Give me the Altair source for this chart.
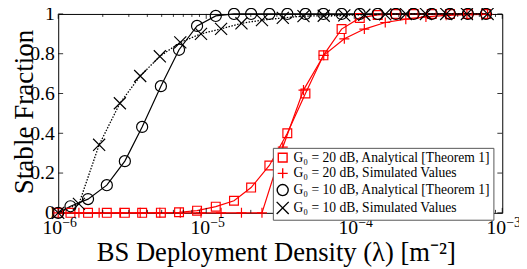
import altair as alt
import pandas as pd

# ---- data ----
x_analytical = [1e-6, 1.21e-6, 1.59e-6, 2.13e-6, 2.82e-6, 3.69e-6, 4.94e-6, 6.55e-6, 8.67e-6,
                1.16e-5, 1.54e-5, 2.01e-5, 2.67e-5, 3.53e-5, 4.68e-5, 6.19e-5, 8.21e-5,
                1.09e-4, 1.44e-4, 1.91e-4, 2.52e-4, 3.34e-4, 4.43e-4, 5.86e-4, 7.76e-4]
g20_analytical = [0, 0, 0, 0, 0, 0, 0.001, 0.003, 0.011, 0.031, 0.061, 0.127, 0.238, 0.40,
                  0.60, 0.792, 0.924, 0.98, 0.995, 1, 1, 1, 1, 1, 1]
g10_analytical = [0, 0.033, 0.069, 0.139, 0.26, 0.432, 0.637, 0.82, 0.94, 0.99, 1, 1, 1, 1,
                  1, 1, 1, 1, 1, 1, 1, 1, 1, 1, 1]

x_simulated = [1e-6, 1.38e-6, 1.89e-6, 2.61e-6, 3.58e-6, 4.86e-6, 6.68e-6, 9.22e-6, 1.26e-5,
               1.73e-5, 2.38e-5, 3.29e-5, 4.54e-5, 6.22e-5, 8.57e-5, 1.17e-4, 1.62e-4,
               2.23e-4, 3.05e-4, 4.18e-4, 5.77e-4, 7.96e-4]
g20_simulated = [0, 0, 0, 0, 0, 0, 0, 0, 0, 0, 0, 0.33, 0.617, 0.792, 0.875, 0.924, 0.957,
                 0.974, 0.985, 0.993, 0.996, 0.998]
g10_simulated = [0, 0.045, 0.342, 0.551, 0.688, 0.787, 0.857, 0.90, 0.925, 0.953, 0.969,
                 0.98, 0.989, 0.991, 0.993, 0.996, 0.998, 1, 1, 1, 1, 1]

series_names = ["G₀ = 20 dB, Analytical [Theorem 1]",
                "G₀ = 20 dB, Simulated Values",
                "G₀ = 10 dB, Analytical [Theorem 1]",
                "G₀ = 10 dB, Simulated Values"]
series_colors = ["#ff0000", "#ff0000", "#000000", "#000000"]
series_shapes = ["square", "M-1,0L1,0M0,-1L0,1", "circle", "M-1,-1L1,1M-1,1L1,-1"]
series_sizes = [80, 150, 100, 90]

x_tick_major = [1e-6, 1e-5, 1e-4, 1e-3]
x_tick_base = ["10", "10", "10", "10"]
x_tick_exp = ["−6", "−5", "−4", "−3"]
x_tick_minor = [m * d for d in [1e-6, 1e-5, 1e-4] for m in range(2, 10)]
y_ticks = [0, 0.2, 0.4, 0.6, 0.8, 1.0]

# ---- build table ----
rows = []
for name, xs, ys, col in [
    (series_names[0], x_analytical, g20_analytical, series_colors[0]),
    (series_names[1], x_simulated, g20_simulated, series_colors[1]),
    (series_names[2], x_analytical, g10_analytical, series_colors[2]),
    (series_names[3], x_simulated, g10_simulated, series_colors[3]),
]:
    for xv, yv in zip(xs, ys):
        rows.append({"series": name, "x": xv, "y": yv, "col": col})
df = pd.DataFrame(rows)

W, H = 451, 202
SERIF = "Liberation Serif"

xscale = alt.Scale(type="log", domain=[1e-6, 1e-3], nice=False)
yscale = alt.Scale(domain=[0, 1], nice=False)

x_axis = alt.Axis(values=x_tick_major, labels=False, ticks=False, domain=False,
                  grid=False,
                  title="BS Deployment Density (λ) [m⁻²]", titleFont=SERIF,
                  titleFontSize=27, titleFontWeight="normal", titleColor="black",
                  titleX=221, titleY=48, titleBaseline="alphabetic", titleAlign="center")
y_axis = alt.Axis(values=y_ticks, format="~g", ticks=False, domain=False, grid=False,
                  labelFont=SERIF, labelFontSize=20, labelPadding=4, labelColor="black",
                  title="Stable Fraction", titleFont=SERIF, titleFontSize=27.5,
                  titleFontWeight="normal", titleColor="black", titleX=-26, titleY=99,
                  titleBaseline="alphabetic", titleAngle=-90, titleAlign="center")

base = alt.Chart(df)
solid = base.transform_filter(alt.datum.series != series_names[3]).mark_line(
    strokeWidth=1.2).encode(
    x=alt.X("x:Q", scale=xscale, axis=x_axis),
    y=alt.Y("y:Q", scale=yscale, axis=y_axis),
    detail="series:N",
    color=alt.Color("col:N", scale=None),
)
dotted = base.transform_filter(alt.datum.series == series_names[3]).mark_line(
    strokeWidth=1.3, strokeDash=[1.5, 1.5], color="black").encode(
    x=alt.X("x:Q", scale=xscale),
    y=alt.Y("y:Q", scale=yscale),
)
legend = alt.Legend(title=None, orient="none", legendX=218, legendY=136,
                    fillColor="white", strokeColor="#555555", padding=3,
                    labelFont=SERIF, labelFontSize=13.8, labelColor="black",
                    labelLimit=400, symbolSize=70, symbolStrokeWidth=1.4,
                    rowPadding=0, labelOffset=4)
points = base.mark_point(filled=False, strokeWidth=1.2, opacity=1).encode(
    x=alt.X("x:Q", scale=xscale),
    y=alt.Y("y:Q", scale=yscale),
    color=alt.Color("series:N", scale=alt.Scale(domain=series_names, range=series_colors),
                    legend=legend, sort=series_names),
    shape=alt.Shape("series:N", scale=alt.Scale(domain=series_names, range=series_shapes),
                    legend=legend, sort=series_names),
    size=alt.Size("series:N", scale=alt.Scale(domain=series_names, range=series_sizes),
                  legend=None),
)

xt_major = pd.DataFrame({"x": x_tick_major, "base": x_tick_base, "exp": x_tick_exp})
xt_minor = pd.DataFrame({"x": x_tick_minor})
yt = pd.DataFrame({"y": y_ticks})


def xticks(data, y0, y1):
    return alt.Chart(data).mark_rule(color="black", strokeWidth=0.8).encode(
        x=alt.X("x:Q", scale=xscale), y=alt.value(y0), y2=alt.value(y1))


def yticks(x0, x1):
    return alt.Chart(yt).mark_rule(color="black", strokeWidth=0.8).encode(
        y=alt.Y("y:Q", scale=yscale), x=alt.value(x0), x2=alt.value(x1))


lab_base = alt.Chart(xt_major).mark_text(
    font=SERIF, fontSize=20, align="right", baseline="alphabetic", dx=4,
    color="black").encode(
    x=alt.X("x:Q", scale=xscale), y=alt.value(H + 21), text="base:N")
lab_exp = alt.Chart(xt_major).mark_text(
    font=SERIF, fontSize=14, align="left", baseline="alphabetic", dx=4,
    color="black").encode(
    x=alt.X("x:Q", scale=xscale), y=alt.value(H + 14), text="exp:N")

chart = alt.layer(
    solid, dotted, points,
    xticks(xt_major, H, H - 5), xticks(xt_major, 0, 5),
    xticks(xt_minor, H, H - 3), xticks(xt_minor, 0, 3),
    yticks(0, 5), yticks(W, W - 5),
    lab_base, lab_exp,
).properties(
    width=W, height=H,
    autosize=alt.AutoSizeParams(type="none"),
    padding={"left": 51, "top": 4, "right": 17, "bottom": 55},
    background="white",
).configure_view(stroke="black", strokeWidth=1)

chart.save("out.html", embed_options={"renderer": "svg", "actions": False})
